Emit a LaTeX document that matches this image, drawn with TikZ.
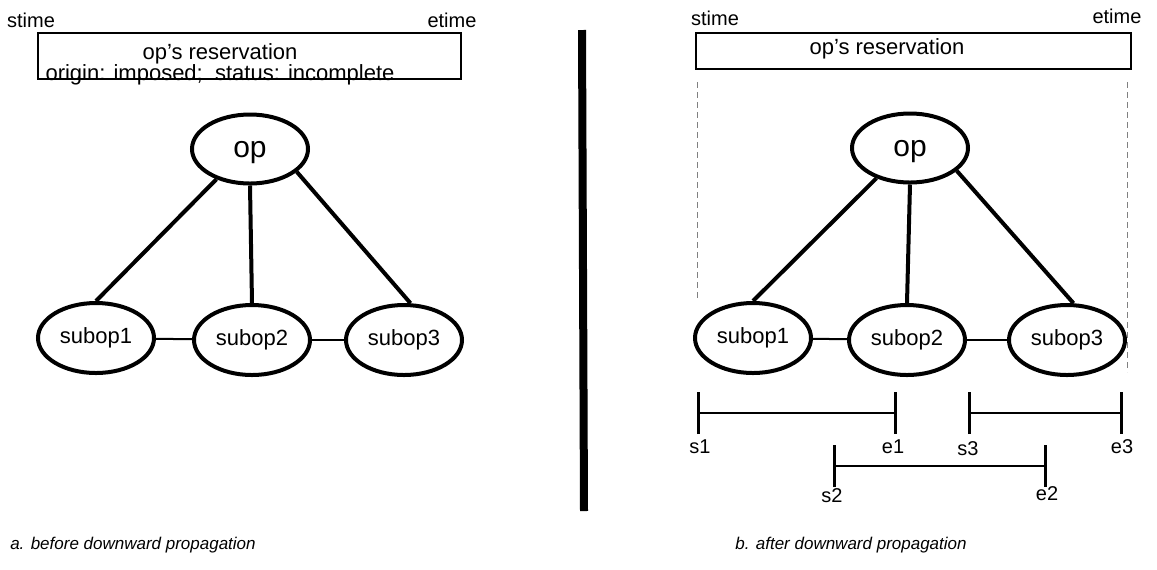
\documentclass[tikz,border=0pt]{standalone}
\usepackage{fontspec}
\setmainfont{Liberation Sans}
\usetikzlibrary{positioning, shapes.geometric, arrows.meta}

\begin{document}
\begin{tikzpicture}[x=0.5pt, y=-0.5pt,
	opnode/.style={ellipse, draw, line width=2pt, inner sep=0pt, text depth=0pt, minimum width=58pt, minimum height=34.5pt, font=\fontsize{15}{15}\selectfont},
	subnode/.style={ellipse, draw, line width=2pt, inner sep=0pt, minimum width=58pt, minimum height=35pt, font=\fontsize{11}{11}\selectfont},
	resbox/.style={rectangle, draw, line width=1.2pt, inner sep=0pt},
	restext/.style={font=\fontsize{11}{10.5}\selectfont, inner sep=0pt, align=center},
	timelbl/.style={font=\fontsize{10}{10}\selectfont, inner sep=0pt, anchor=base},
	ticklbl/.style={font=\fontsize{10}{10}\selectfont, inner sep=0pt},
	caption/.style={font=\fontsize{8.5}{8.5}\selectfont\itshape, inner sep=0pt},
	tree/.style={line width=2pt},
	link/.style={line width=1pt},
	guide/.style={densely dashed, gray, line width=0.4pt},
	interval/.style={line width=1pt, {Bar[width=21pt,line width=1.6pt]}-{Bar[width=21pt,line width=1.6pt]}}]
			\useasboundingbox (0,0) rectangle (1157,569);
			
			% a. before downward propagation
			\node[timelbl] (stimea) at (31,27) {stime};
			\node[timelbl] (etimea) at (452,27) {etime};
			\node[resbox, minimum width=211.3pt, minimum height=22.8pt] (resa) at (249.5,56) {};
			\node[restext] (resatxt) at (220,64) {op's reservation\\origin: imposed;\ \ status: incomplete};
			
			\node[opnode] (opa) at (250,149) {op};
			\node[subnode] (suba1) at (96,338) {subop1};
			\node[subnode] (suba2) at (252,340) {subop2};
			\node[subnode] (suba3) at (404,340) {subop3};
			
			\draw[tree] (opa.222) -- (suba1.north);
			\draw[tree] (opa.south) -- (suba2.north);
			\draw[tree] (opa.334) -- (suba3.80);
			\draw[link] (suba1) -- (suba2);
			\draw[link] (suba2) -- (suba3);
			
			\node[caption] (capa) at (133,545) {a. before downward propagation};
			
			% divider
			\coordinate (divtop) at (582,30);
			\coordinate (divbot) at (584,511);
			\draw[line width=4pt] (divtop) -- (divbot);
			
			% b. after downward propagation
			\node[timelbl] (stimeb) at (715,25) {stime};
			\node[timelbl] (etimeb) at (1117,23) {etime};
			\node[resbox, minimum width=217.3pt, minimum height=17.8pt] (resb) at (913.5,51) {};
			\node[restext] (resbtxt) at (887,49) {op's reservation};
			
			\coordinate (gl1) at (697,82);
			\coordinate (gl2) at (697,300);
			\coordinate (gr1) at (1127,82);
			\coordinate (gr2) at (1127,372);
			\draw[guide] (gl1) -- (gl2);
			\draw[guide] (gr1) -- (gr2);
			
			\node[opnode] (opb) at (910,148) {op};
			\node[subnode] (subb1) at (753,338) {subop1};
			\node[subnode] (subb2) at (907,340) {subop2};
			\node[subnode] (subb3) at (1067,340) {subop3};
			
			\draw[tree] (opb.222) -- (subb1.north);
			\draw[tree] (opb.south) -- (subb2.north);
			\draw[tree] (opb.334) -- (subb3.80);
			\draw[link] (subb1) -- (subb2);
			\draw[link] (subb2) -- (subb3);
			
			\coordinate (s1) at (697,413);
			\coordinate (e1) at (897,413);
			\coordinate (s3) at (968,413);
			\coordinate (e3) at (1123,413);
			\coordinate (s2) at (833,466);
			\coordinate (e2) at (1047,466);
			\draw[interval] (s1) -- (e1);
			\draw[interval] (s3) -- (e3);
			\draw[interval] (s2) -- (e2);
			
			\node[ticklbl] (s1lbl) at (700,447) {s1};
			\node[ticklbl] (e1lbl) at (893,447) {e1};
			\node[ticklbl] (s3lbl) at (968,449) {s3};
			\node[ticklbl] (e3lbl) at (1122,447) {e3};
			\node[ticklbl] (s2lbl) at (832,496) {s2};
			\node[ticklbl] (e2lbl) at (1047,494) {e2};
			
			\node[caption] (capb) at (851,545) {b. after downward propagation};
		\end{tikzpicture}
\end{document}
